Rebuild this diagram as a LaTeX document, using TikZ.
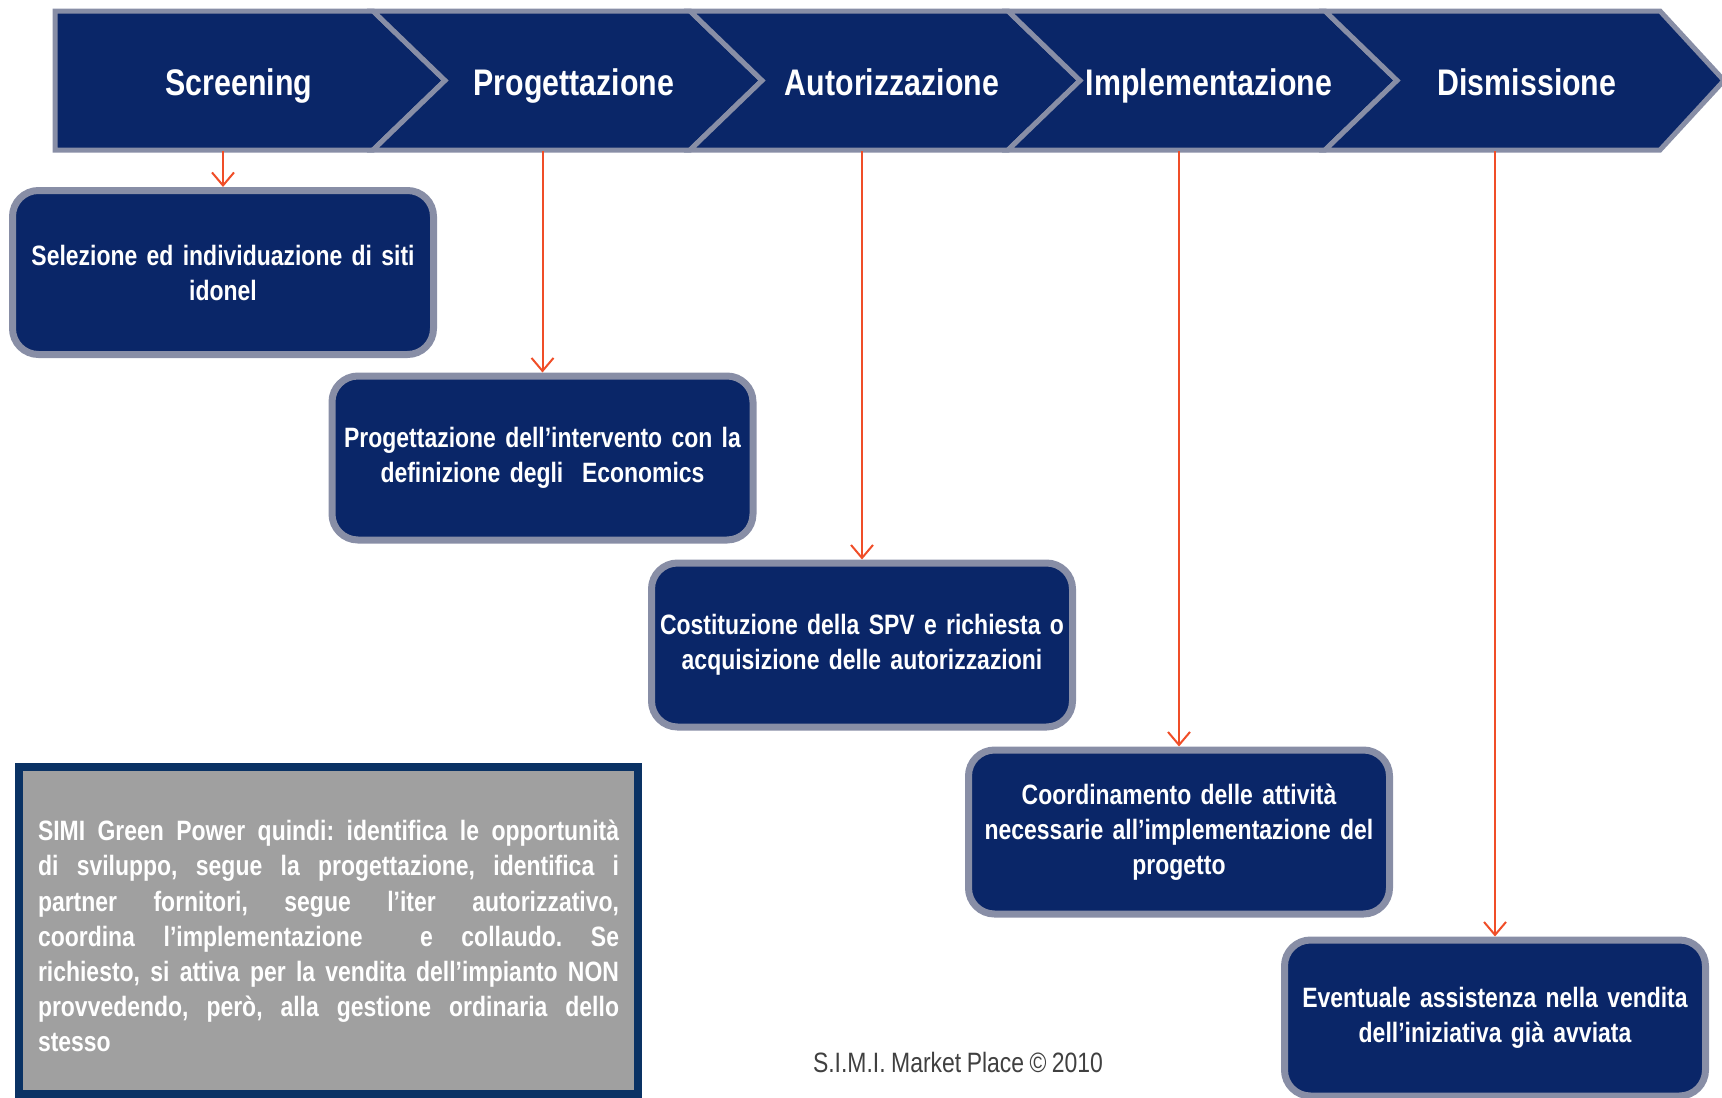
\documentclass[tikz,border=0pt]{standalone}
\usepackage{fontspec}
\setmainfont{Liberation Sans}
\newfontfamily\narrowfont[FakeStretch=0.82, WordSpace=0.85]{Liberation Sans}
\usetikzlibrary{arrows.meta, positioning, calc}
\frenchspacing

\definecolor{navy}{RGB}{10,38,104}
\definecolor{bevel}{RGB}{136,142,166}
\definecolor{arrowred}{RGB}{240,78,40}
\definecolor{notegray}{RGB}{160,160,160}
\definecolor{noteblue}{RGB}{10,50,100}

\tikzset{
  phase/.style={
    text=white, anchor=base,
    font=\narrowfont\bfseries\fontsize{37}{40}\selectfont
  },
  chev/.style={fill=navy, draw=bevel, line width=5pt, line join=miter},
  stepbox/.style={
    rectangle, draw=bevel, fill=navy,
    line width=7pt, rounded corners=26pt,
    minimum width=421pt, minimum height=164pt,
    text width=414pt, align=center, text=white,
    font=\narrowfont\bfseries\fontsize{28}{35}\selectfont
  },
  notebox/.style={
    rectangle, draw=noteblue, fill=notegray,
    line width=8pt,
    minimum width=619pt, minimum height=327pt,
    text width=581pt, align=justify, text=white,
    font=\narrowfont\bfseries\fontsize{28}{35.2}\selectfont
  },
  credit/.style={
    text=black!75,
    font=\narrowfont\fontsize{28}{30}\selectfont
  },
  line/.style={draw=arrowred, line width=2pt, -{Straight Barb[length=13pt,width=22pt]}},
}

\begin{document}
\begin{tikzpicture}[x=1pt, y=-1pt]
  \useasboundingbox (0,0) rectangle (1722,1098);

  % phase bar
  \path[chev] (55,11) -- (373,11) -- (445,80.5) -- (373,150) -- (55,150) -- cycle;
  \path[chev] (373,11) -- (690,11) -- (762,80.5) -- (690,150) -- (373,150) -- (445,80.5) -- cycle;
  \path[chev] (690,11) -- (1008,11) -- (1080,80.5) -- (1008,150) -- (690,150) -- (762,80.5) -- cycle;
  \path[chev] (1008,11) -- (1325,11) -- (1397,80.5) -- (1325,150) -- (1008,150) -- (1080,80.5) -- cycle;
  \path[chev] (1325,11) -- (1660,11) -- (1724,80.5) -- (1660,150) -- (1325,150) -- (1397,80.5) -- cycle;
  \coordinate (barbot) at (0,151);

  \node[phase] (scr) at (239,95) {Screening};
  \node[phase] (prog) at (574,95) {Progettazione};
  \node[phase] (aut) at (892,95) {Autorizzazione};
  \node[phase] (impl) at (1209,95) {Implementazione};
  \node[phase] (dism) at (1527,95) {Dismissione};

  % steps
  \node[stepbox] (sel) at (223,272.5) {Selezione ed individuazione di siti\\ idonel};
  \node[stepbox] (interv) at (542.5,458) {Progettazione dell’intervento con la\\ definizione degli\ \ Economics};
  \node[stepbox] (spv) at (862,645) {Costituzione della SPV e richiesta o\\ acquisizione delle autorizzazioni};
  \node[stepbox] (coord) at (1179,832) {Coordinamento delle attività\\ necessarie all’implementazione del\\ progetto};
  \node[stepbox, minimum height=156pt] (vend) at (1495,1018) {Eventuale assistenza nella vendita\\ dell’iniziativa già avviata};

  \draw[line] (sel.north |- barbot) -- (sel.north);
  \draw[line] (interv.north |- barbot) -- (interv.north);
  \draw[line] (spv.north |- barbot) -- (spv.north);
  \draw[line] (coord.north |- barbot) -- (coord.north);
  \draw[line] (vend.north |- barbot) -- (vend.north);

  % summary
  \node[notebox] (note) at (328.5,930.5) {\rule{0pt}{32pt}SIMI Green Power quindi: identifica le opportunità\linebreak
    di sviluppo, segue la progettazione, identifica i\linebreak
    partner fornitori, segue l’iter autorizzativo,\linebreak
    coordina l’implementazione\ \ e collaudo. Se\linebreak
    richiesto, si attiva per la vendita dell’impianto NON\linebreak
    provvedendo, però, alla gestione ordinaria dello\linebreak
    stesso};

  \node[credit] (copy) at (958,1062) {S.I.M.I. Market Place \textcopyright\ 2010};
\end{tikzpicture}
\end{document}
